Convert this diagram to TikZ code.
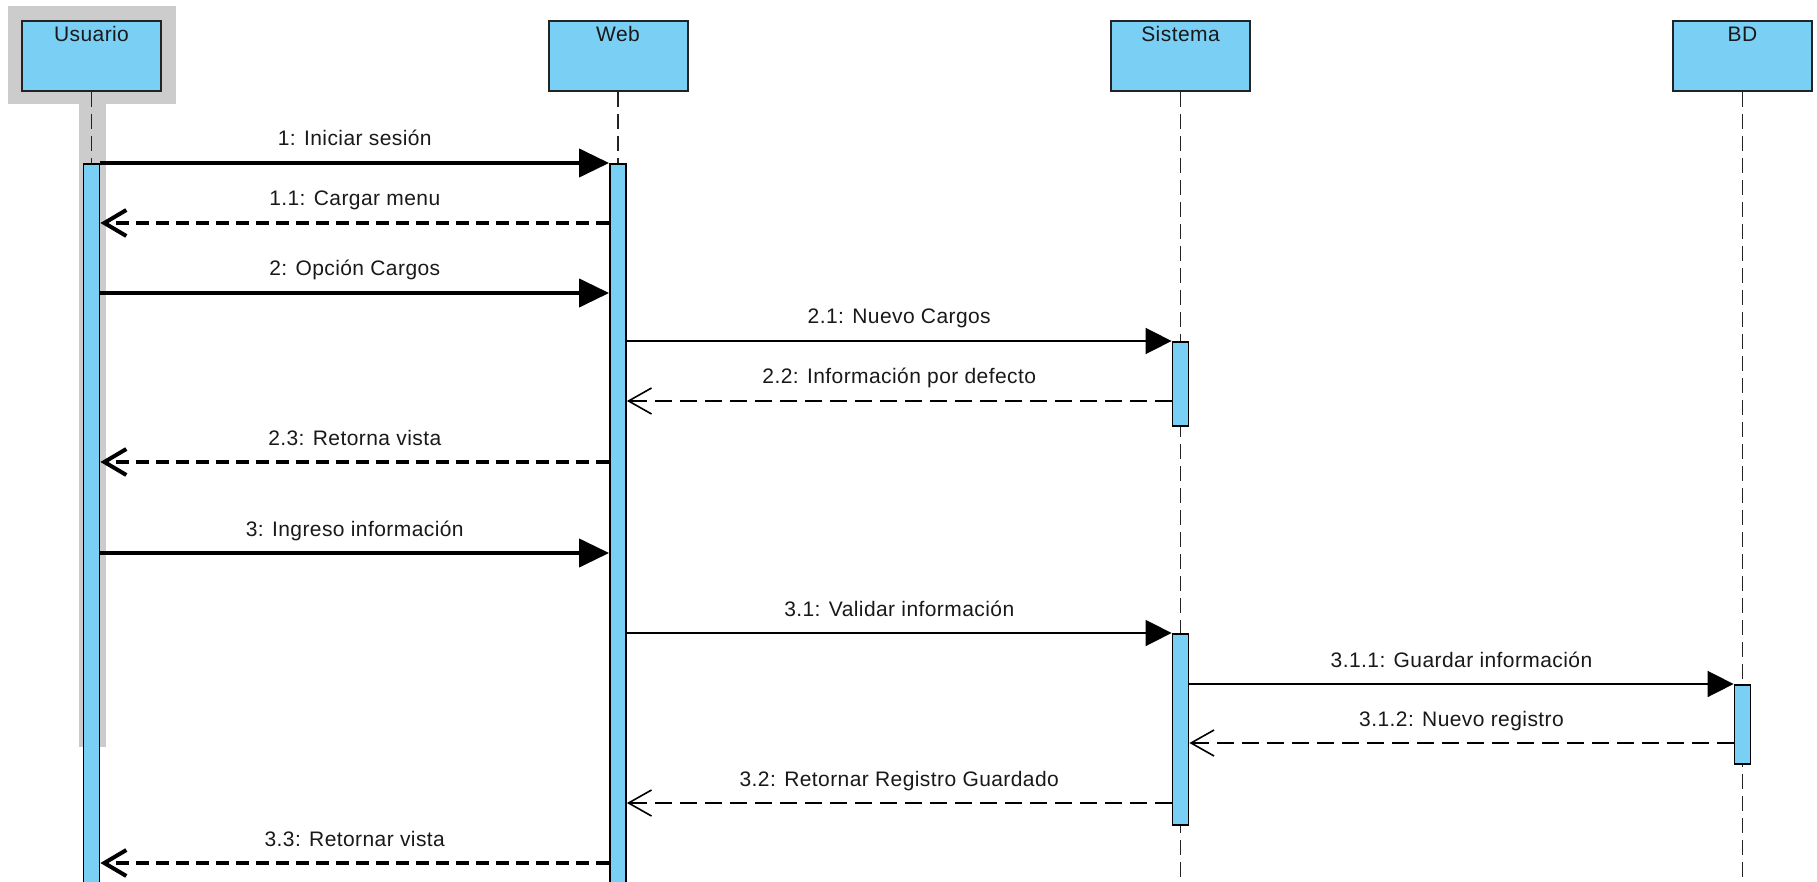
\documentclass[tikz,border=0pt]{standalone}
\usepackage{fontspec}
\setmainfont{Liberation Sans}[LetterSpace=2]
\usetikzlibrary{arrows.meta}
\definecolor{lifeblue}{RGB}{122,207,245}
\definecolor{focusgray}{RGB}{204,204,204}
\definecolor{edgegray}{RGB}{35,35,35}
\definecolor{inkgray}{RGB}{25,25,25}

\begin{document}
\begin{tikzpicture}[x=1pt,y=-1pt,
  headbox/.style={draw=edgegray, line width=2pt, fill=lifeblue,
    minimum width=139pt, minimum height=70pt, inner sep=0pt},
  headtext/.style={anchor=base, font=\fontsize{21}{25}\selectfont, text=inkgray},
  lifeline/.style={draw=edgegray, line width=1.5pt, dash pattern=on 15pt off 7pt},
  actbar/.style={draw=black, line width=1.8pt, fill=lifeblue,
    minimum width=16pt, inner sep=0pt, anchor=north},
  callthick/.style={line width=4pt, -{Triangle[length=30pt,width=28pt]}},
  replythick/.style={line width=4pt, dash pattern=on 13pt off 7pt,
    -{Straight Barb[length=22pt,width=26pt]}},
  callthin/.style={line width=1.6pt, -{Triangle[length=26pt,width=26pt]}},
  replythin/.style={line width=1.6pt, dash pattern=on 17pt off 8pt,
    -{Straight Barb[length=23pt,width=26pt]}},
  msg/.style={anchor=base, font=\fontsize{21}{25}\selectfont, text=inkgray},
]
\useasboundingbox (0,0) rectangle (1817,882);
\clip (0,0) rectangle (1817,882);
\fill[white] (0,0) rectangle (1817,882);

% selection highlight around the Usuario lifeline
\fill[focusgray] (8,6) rectangle (176,104);
\fill[focusgray] (79,104) rectangle (106,747);

% lifeline heads
\node[headbox] (usuario) at (91.5,56) {};
\node[headbox] (web)     at (618,56) {};
\node[headbox] (sistema) at (1180.5,56) {};
\node[headbox] (bd)      at (1742.5,56) {};
\node[headtext] at ([yshift=-22pt]usuario.north) {Usuario};
\node[headtext] at ([yshift=-22pt]web.north) {Web};
\node[headtext] at ([yshift=-22pt]sistema.north) {Sistema};
\node[headtext] at ([yshift=-22pt]bd.north) {BD};

% dashed lifelines
\foreach \h in {usuario,web,sistema,bd}
  \draw[lifeline] (\h.south) -- ++(0,820);

% activation bars
\node[actbar, minimum height=760pt] (ubar)  at (usuario.south |- 0,163) {};
\node[actbar, minimum height=760pt] (wbar)  at (web.south |- 0,163) {};
\node[actbar, minimum height=84pt]  (sbar1) at (sistema.south |- 0,341) {};
\node[actbar, minimum height=191pt] (sbar2) at (sistema.south |- 0,633) {};
\node[actbar, minimum height=79pt]  (dbar)  at (bd.south |- 0,684) {};

% message rows
\coordinate (r1)   at (0,163);
\coordinate (r11)  at (0,223);
\coordinate (r2)   at (0,293);
\coordinate (r21)  at (0,341);
\coordinate (r22)  at (0,401);
\coordinate (r23)  at (0,462);
\coordinate (r3)   at (0,553);
\coordinate (r31)  at (0,633);
\coordinate (r311) at (0,684);
\coordinate (r312) at (0,743);
\coordinate (r32)  at (0,803);
\coordinate (r33)  at (0,863);

% messages
\draw[callthick] (ubar.east |- r1) -- (wbar.west |- r1)
  node[msg, midway, yshift=17pt] {1: Iniciar sesión};
\draw[replythick] (wbar.west |- r11) -- (ubar.east |- r11)
  node[msg, midway, yshift=17pt] {1.1: Cargar menu};
\draw[callthick] (ubar.east |- r2) -- (wbar.west |- r2)
  node[msg, midway, yshift=17pt] {2: Opción Cargos};
\draw[callthin] (wbar.east |- r21) -- (sbar1.west |- r21)
  node[msg, midway, yshift=17pt] {2.1: Nuevo Cargos};
\draw[replythin] (sbar1.west |- r22) -- (wbar.east |- r22)
  node[msg, midway, yshift=17pt] {2.2: Información por defecto};
\draw[replythick] (wbar.west |- r23) -- (ubar.east |- r23)
  node[msg, midway, yshift=17pt] {2.3: Retorna vista};
\draw[callthick] (ubar.east |- r3) -- (wbar.west |- r3)
  node[msg, midway, yshift=17pt] {3: Ingreso información};
\draw[callthin] (wbar.east |- r31) -- (sbar2.west |- r31)
  node[msg, midway, yshift=17pt] {3.1: Validar información};
\draw[callthin] (sbar2.east |- r311) -- (dbar.west |- r311)
  node[msg, midway, yshift=17pt] {3.1.1: Guardar información};
\draw[replythin] (dbar.west |- r312) -- (sbar2.east |- r312)
  node[msg, midway, yshift=17pt] {3.1.2: Nuevo registro};
\draw[replythin] (sbar2.west |- r32) -- (wbar.east |- r32)
  node[msg, midway, yshift=17pt] {3.2: Retornar Registro Guardado};
\draw[replythick] (wbar.west |- r33) -- (ubar.east |- r33)
  node[msg, midway, yshift=17pt] {3.3: Retornar vista};
\end{tikzpicture}
\end{document}
